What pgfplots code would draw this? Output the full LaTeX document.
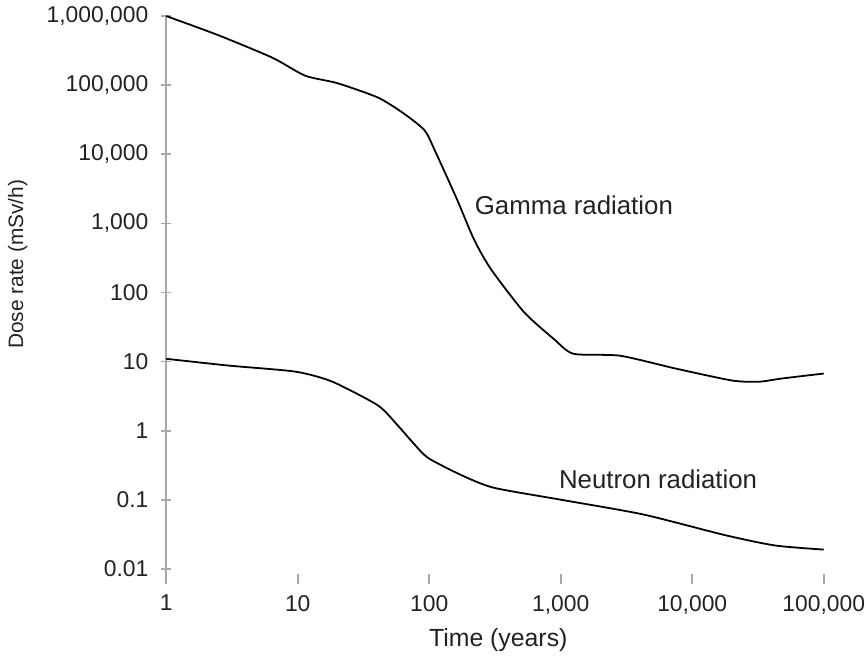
\documentclass[border=0pt]{standalone}
\usepackage{pgfplots}
\pgfplotsset{compat=1.18}
\usepackage{fontspec}
\setmainfont{Liberation Sans}
\definecolor{axgray}{HTML}{A8A8A8}
\definecolor{txt}{HTML}{222222}
\begin{document}
\begin{tikzpicture}
\begin{axis}[
  scale only axis,
  width=331pt, height=283.5pt,
  xmode=log, ymode=log,
  xmin=1, xmax=100000,
  ymin=0.00713, ymax=1000000,
  axis x line*=bottom, axis y line*=left,
  x axis line style={draw=none},
  y axis line style={axgray, line width=0.8pt},
  every tick/.style={axgray, line width=0.8pt},
  xminorticks=false, yminorticks=false,
  xtick={1,10,100,1000,10000,100000},
  xticklabels={1,10,100,{1,000},{10,000},{100,000}},
  ytick={0.01,0.1,1,10,100,1000,10000,100000,1000000},
  yticklabels={0.01,0.1,1,10,100,{1,000},{10,000},{100,000},{1,000,000}},
  tick align=center, major tick length=5pt,
  ticklabel style={font=\fontsize{11.5}{13}\selectfont, text=txt},
  xticklabel style={yshift=-2pt, inner xsep=0.5pt},
  yticklabel style={xshift=-3pt},
  xlabel={Time (years)},
  ylabel={Dose rate (mSv/h)},
  xlabel style={font=\fontsize{12.5}{14}\selectfont, text=txt, at={(axis description cs:0.505,-0.108)}, anchor=center},
  ylabel style={font=\fontsize{10.5}{12}\selectfont, text=txt, inner sep=4pt, at={(axis description cs:-0.226,0.559)}, anchor=center},
  clip=false,
]
\addplot[black, line width=0.9pt, smooth, tension=0.4] coordinates {
(1,1000000) (2.51,525000) (6.43,249000) (11.4,137000) (20,107000) (40.6,66400)
(63,39800) (92,22300) (110,11500) (163,2200) (219,585) (295,217) (525,52.2)
(883,21.4) (1250,13.0) (2818,12.2) (7500,7.94) (20180,5.33) (32360,5.13)
(47860,5.70) (100000,6.73)
};
\addplot[black, line width=0.9pt, smooth, tension=0.4] coordinates {
(1,11.0) (2.99,8.77) (9.55,7.18) (18.2,5.16) (40.7,2.33) (57.5,1.20) (73.3,0.71)
(97.7,0.407) (174,0.230) (309,0.150) (1000,0.1007) (4217,0.0617) (17780,0.0309)
(42660,0.0219) (100000,0.0191)
};
\node[font=\fontsize{13}{15}\selectfont, text=txt] at (axis cs:1259,1800) {Gamma radiation};
\node[font=\fontsize{13}{15}\selectfont, text=txt] at (axis cs:5500,0.2) {Neutron radiation};
\end{axis}
\end{tikzpicture}
\end{document}
